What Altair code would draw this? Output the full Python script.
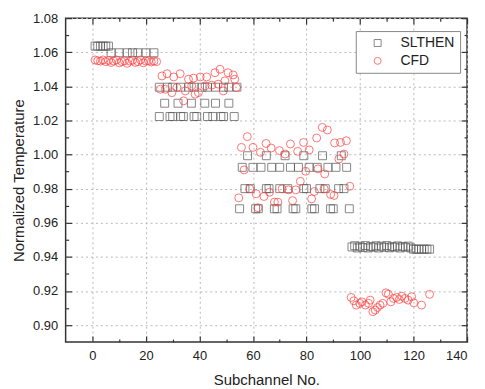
import altair as alt
import pandas as pd

# ---- axis tick values ----
x_major = [0, 20, 40, 60, 80, 100, 120, 140]
x_minor = [10, 30, 50, 70, 90, 110, 130]
y_major = [0.90, 0.92, 0.94, 0.96, 0.98, 1.00, 1.02, 1.04, 1.06, 1.08]
y_minor = [0.91, 0.93, 0.95, 0.97, 0.99, 1.01, 1.03, 1.05, 1.07]

# ---- SLTHEN: rows of equal value (value, subchannels) ----
sl_rows = [
    (1.0636, [1, 2, 3, 4, 5, 6]),
    (1.0597, [7, 10, 13, 15, 17, 20, 23]),
    (1.0395, [25, 28, 30, 33, 36, 38, 41, 43, 46, 49, 51, 54]),
    (1.0301, [27, 32, 37, 42, 46, 51]),
    (1.0223, [25, 29, 30, 33, 34, 38, 39, 43, 45, 48, 49, 53]),
    (0.9993, [58, 65, 72, 79, 86, 93]),
    (0.9925, [56, 60, 63, 67, 70, 74, 77, 81, 84, 88, 91, 95]),
    (0.9800, [57, 59, 65, 66, 70, 73, 79, 80, 85, 87, 92, 94]),
    (0.9682, [55, 61, 62, 68, 69, 75, 76, 82, 83, 89, 90, 96]),
    (0.9445, [120, 121, 122, 123, 124, 125, 126]),
]
sl_outer_x = [97, 98, 99, 100, 101, 102, 103, 104, 105, 106, 107, 108,
              109, 110, 111, 112, 113, 114, 115, 116, 117, 118, 119]
sl_outer_y = [0.9458, 0.9465, 0.9452, 0.9462, 0.9455, 0.9466, 0.9452, 0.9460,
              0.9457, 0.9465, 0.9452, 0.9462, 0.9456, 0.9466, 0.9453, 0.9460,
              0.9457, 0.9464, 0.9452, 0.9461, 0.9456, 0.9463, 0.9452]

# ---- CFD ----
cfd_x = [1, 2, 3, 4, 5, 6, 7, 8, 9, 10, 11, 12, 13, 14, 15, 16, 17, 18, 19, 20, 21, 22, 23, 24,
         26.0, 27.9, 30.4, 32.8, 35.9, 37.8, 40.3, 42.7, 45.8, 47.7, 50.7, 52.6, 53.2, 49.5,
         47.0, 44.6, 42.1, 39.6, 37.1, 34.7, 34.1, 31.6, 29.7, 27.3, 25.4, 53.8, 48.9, 38.4,
         55.7, 57.9, 60.0, 62.8, 64.9, 66.8, 69.9, 72.0, 74.0, 76.7, 78.9, 81.0, 83.8, 85.9,
         87.8, 90.5, 92.7, 94.9, 94.0, 92.1, 56.7, 79.7, 84.3, 86.8, 77.7, 54.7, 58.8, 61.2,
         61.9, 64.1, 66.2, 68.0, 69.3, 70.9, 73.3, 74.8, 76.0, 81.9, 82.9, 86.6, 89.0, 90.3,
         96.2,
         96.7, 97.7, 98.6, 99.9, 100.7, 102.0, 103.2, 103.8, 104.8, 105.7, 106.5, 107.5,
         108.5, 109.7, 110.6, 111.5, 112.5, 113.7, 114.7, 115.6, 116.8, 118.0, 119.3,
         120.1, 123.0, 126.0]
cfd_y = [1.0555, 1.0550, 1.0548, 1.0555, 1.0545, 1.0552, 1.0540, 1.0548, 1.0555, 1.0538,
         1.0545, 1.0550, 1.0535, 1.0548, 1.0553, 1.0540, 1.0545, 1.0555, 1.0538, 1.0548,
         1.0550, 1.0543, 1.0548, 1.0545,
         1.0461, 1.0474, 1.0455, 1.0474, 1.0442, 1.0448, 1.0455, 1.0455, 1.0480, 1.0500,
         1.0480, 1.0467, 1.0442, 1.0432, 1.0413, 1.0407, 1.0403, 1.0363, 1.0403, 1.0373,
         1.0315, 1.0393, 1.0363, 1.0383, 1.0383, 1.0393, 1.0373, 1.0354,
         1.0042, 1.0105, 1.0042, 1.0013, 1.0065, 1.0038, 1.0023, 1.0003, 1.0062, 1.0019,
         1.0071, 1.0027, 1.0097, 1.0159, 1.0144, 1.0068, 1.0071, 1.0081, 1.0003, 0.9974,
         0.9910, 0.9902, 0.9916, 0.9886, 0.9843, 0.9746, 0.9799, 0.9770, 0.9688, 0.9754,
         0.9779, 0.9721, 0.9721, 0.9799, 0.9793, 0.9730, 0.9793, 0.9740, 0.9783, 0.9799,
         0.9766, 0.9760, 0.9814,
         0.9162, 0.9142, 0.9117, 0.9127, 0.9136, 0.9117, 0.9127, 0.9146, 0.9078, 0.9088,
         0.9103, 0.9117, 0.9127, 0.9189, 0.9181, 0.9136, 0.9156, 0.9162, 0.9150, 0.9169,
         0.9156, 0.9146, 0.9166, 0.9130, 0.9117, 0.9180]

series_names = ["SLTHEN", "CFD"]
series_colors = ["#555555", "#ff3b3b"]
series_shapes = ["square", "circle"]

# ---- build table ----
rows = []
for val, xs_ in sl_rows:
    for xv in xs_:
        rows.append({"x": xv, "y": val, "series": "SLTHEN"})
for xv, yv in zip(sl_outer_x, sl_outer_y):
    rows.append({"x": xv, "y": yv, "series": "SLTHEN"})
for xv, yv in zip(cfd_x, cfd_y):
    rows.append({"x": xv, "y": yv, "series": "CFD"})
df = pd.DataFrame(rows)

FONT = "Liberation Sans"
xs = alt.Scale(domain=[-10, 140], nice=False, zero=False)
ys = alt.Scale(domain=[0.89, 1.08], nice=False, zero=False)


def ax(orient, values, **kw):
    d = dict(orient=orient, values=values, domain=False, grid=False,
             labels=False, ticks=True, title=None)
    d.update(kw)
    return alt.Axis(**d)


base = alt.Chart(df)

grid = base.mark_point(opacity=0).encode(
    x=alt.X("x:Q", scale=xs, axis=ax("bottom", x_major, ticks=False, grid=True,
                                     gridColor="#b8b8b8", gridDash=[2, 3], gridWidth=1)),
    y=alt.Y("y:Q", scale=ys, axis=ax("left", y_major, ticks=False, grid=True,
                                     gridColor="#b8b8b8", gridDash=[2, 3], gridWidth=1)),
)

leg = alt.Legend(title=None, orient="none", legendX=292, legendY=13,
                 strokeColor="#888888", fillColor="white", padding=5,
                 symbolOffset=10, labelOffset=16, rowPadding=4,
                 labelFontSize=14, labelFont=FONT, labelColor="#222222",
                 symbolSize=49, symbolStrokeWidth=1)

pts = base.mark_point(filled=False, size=64, strokeWidth=1).encode(
    x=alt.X("x:Q", scale=xs,
            axis=ax("bottom", x_major, labels=True, offset=-6, tickSize=6,
                    labelPadding=8, labelFontSize=13, title="Subchannel No.",
                    titleFontSize=15, titlePadding=10)),
    y=alt.Y("y:Q", scale=ys,
            axis=ax("left", y_major, labels=True, offset=-6, tickSize=6,
                    labelPadding=8, labelFontSize=13, format=".2f",
                    title="Normalized Temperature", titleFontSize=15, titlePadding=6)),
    color=alt.Color("series:N", scale=alt.Scale(domain=series_names, range=series_colors), legend=leg),
    shape=alt.Shape("series:N", scale=alt.Scale(domain=series_names, range=series_shapes), legend=leg),
)

minor_bl = base.mark_point(opacity=0).encode(
    x=alt.X("x:Q", scale=xs, axis=ax("bottom", x_minor, offset=-3, tickSize=3)),
    y=alt.Y("y:Q", scale=ys, axis=ax("left", y_minor, offset=-3, tickSize=3)),
)
major_tr = base.mark_point(opacity=0).encode(
    x=alt.X("x:Q", scale=xs, axis=ax("top", x_major, offset=-6, tickSize=6)),
    y=alt.Y("y:Q", scale=ys, axis=ax("right", y_major, offset=-6, tickSize=6)),
)
minor_tr = base.mark_point(opacity=0).encode(
    x=alt.X("x:Q", scale=xs, axis=ax("top", x_minor, offset=-3, tickSize=3)),
    y=alt.Y("y:Q", scale=ys, axis=ax("right", y_minor, offset=-3, tickSize=3)),
)

chart = alt.layer(grid, pts, minor_bl, major_tr, minor_tr).resolve_axis(
    x="independent", y="independent"
).properties(
    width=404, height=326,
    padding={"left": 58, "top": 9, "right": 10, "bottom": 46},
    autosize=alt.AutoSizeParams(type="none"),
).configure_view(
    stroke="#333333", strokeWidth=1.5
).configure_axis(
    labelFont=FONT, titleFont=FONT, tickColor="#333333", tickWidth=1.2,
    labelColor="#222222", titleColor="#222222", titleFontWeight="normal"
)

chart.save("out.html", embed_options={"renderer": "svg", "actions": False})
